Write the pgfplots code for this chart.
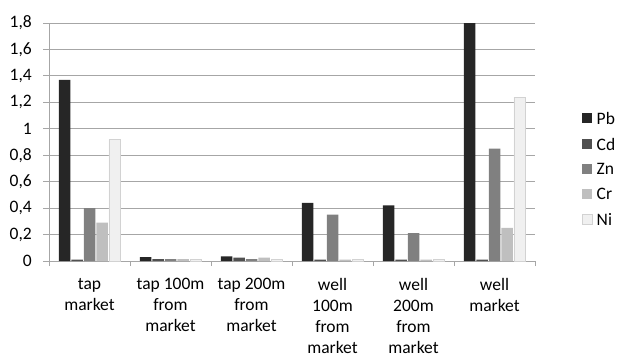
\documentclass[border=0pt]{standalone}
\usepackage{fontspec}
\setmainfont{Carlito}
\usepackage{pgfplots}
\usepackage{pgfplotstable}
\pgfplotsset{compat=1.18}
\definecolor{cPb}{HTML}{262626}
\definecolor{cCd}{HTML}{505050}
\definecolor{cZn}{HTML}{808080}
\definecolor{cCr}{HTML}{BFBFBF}
\definecolor{cNi}{HTML}{F0F0F0}
\definecolor{gridc}{HTML}{A6A6A6}
\pgfplotstableread{
x Pb Cd Zn Cr Ni
0 1.37 0.01 0.40 0.29 0.92
1 0.03 0.015 0.015 0.015 0.01
2 0.035 0.025 0.015 0.025 0.01
3 0.44 0.01 0.35 0.01 0.01
4 0.42 0.01 0.21 0.01 0.01
5 1.81 0.01 0.85 0.25 1.24
}\datatable
\begin{document}
\begin{tikzpicture}
\path[use as bounding box] (-49pt,-99pt) rectangle (568pt,261pt);
\begin{axis}[
  at={(0pt,0pt)}, anchor=south west,
  scale only axis, width=486pt, height=238pt,
  xmin=-0.5, xmax=5.5, ymin=0, ymax=1.8,
  ybar=1pt, bar width=11.5pt,
  font=\fontsize{17.5}{21}\selectfont,
  ytick={0,0.2,...,1.81},
  /pgf/number format/.cd, use comma, fixed, precision=1, assume math mode=true,
  /pgfplots/.cd,
  yticklabel style={inner sep=0pt, xshift=-11pt},
  xtick={0,...,5},
  xticklabels={tap\\market, tap 100m\\from\\market, tap 200m\\from\\market, well\\100m\\from\\market, well\\200m\\from\\market, well\\market},
  xticklabel style={align=center, inner sep=0pt, yshift=-11pt, font=\fontsize{17.5}{21}\selectfont},
  major x tick style={draw=none},
  minor xtick={-0.5,0.5,...,5.5},
  minor tick length=5pt,
  major tick length=6pt,
  tick align=outside,
  tick style={gridc, line width=0.9pt},
  ymajorgrids, grid style={gridc, line width=0.9pt},
  axis x line*=bottom, axis y line*=left,
  axis line style={gridc, line width=0.9pt},
  legend style={draw=none, fill=none, at={(1.0967,0.626)}, anchor=north west, inner sep=0pt,
    row sep=13.5pt, font=\fontsize{17.5}{21}\selectfont,
    nodes={inner sep=0pt, anchor=west, text depth=0pt}},
  legend cell align=left,
  legend image code/.code={\fill[#1] (0pt,-5pt) rectangle (10pt,5pt); \path (14pt,0pt);},
]
\addplot[fill=cPb, draw=none] table[x=x, y=Pb] {\datatable};
\addplot[fill=cCd, draw=none] table[x=x, y=Cd] {\datatable};
\addplot[fill=cZn, draw=none] table[x=x, y=Zn] {\datatable};
\addplot[fill=cCr, draw=none] table[x=x, y=Cr] {\datatable};
\addplot[fill=cNi, draw=gray!35, line width=0.5pt] table[x=x, y=Ni] {\datatable};
\legend{Pb,Cd,Zn,Cr,Ni}
\end{axis}
\end{tikzpicture}
\end{document}
